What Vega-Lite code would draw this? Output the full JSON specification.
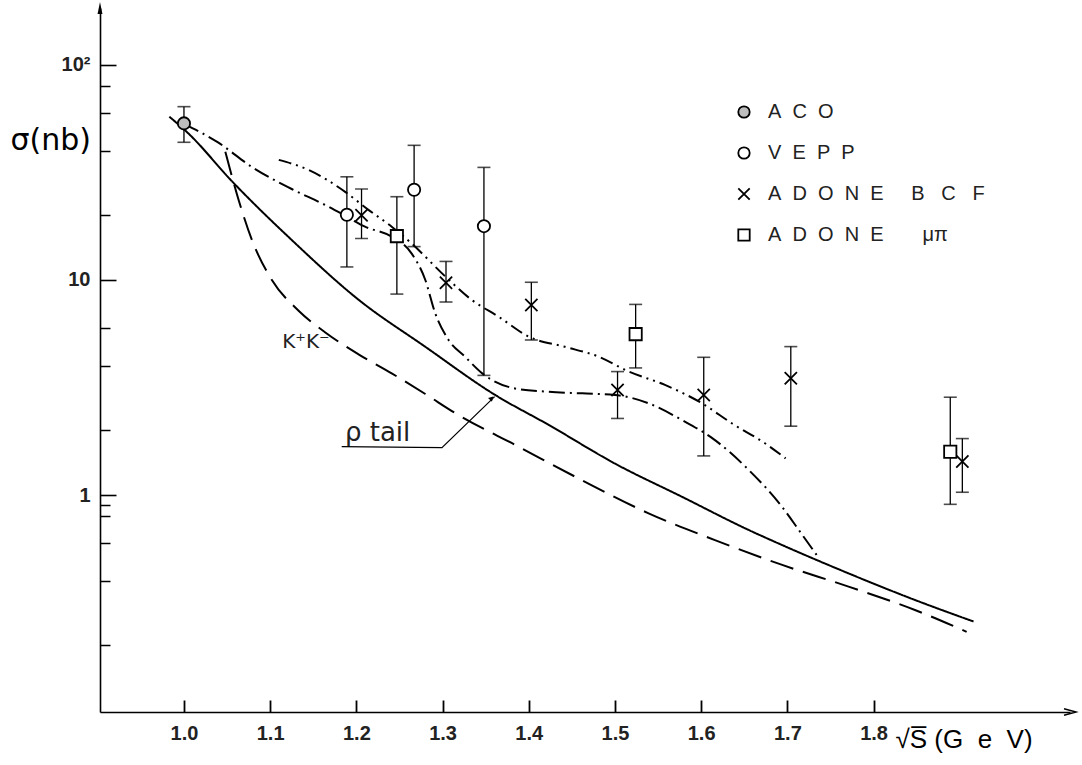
{
  "$schema": "https://vega.github.io/schema/vega-lite/v6.json",
  "width": 970,
  "height": 704,
  "autosize": {"type": "none"},
  "padding": {"left": 100, "top": 8, "right": 12, "bottom": 53},
  "background": "white",
  "config": {"view": {"stroke": null}, "font": "Liberation Sans"},
  "resolve": {"axis": {"x": "independent", "y": "independent"}},
  "datasets": {
    "curves": [
      {"curve": "rho", "x": 0.983, "y": 57.5},
      {"curve": "rho", "x": 1.005, "y": 48.1},
      {"curve": "rho", "x": 1.056, "y": 28.7},
      {"curve": "rho", "x": 1.125, "y": 15.35},
      {"curve": "rho", "x": 1.203, "y": 8.07},
      {"curve": "rho", "x": 1.28, "y": 4.89},
      {"curve": "rho", "x": 1.361, "y": 2.92},
      {"curve": "rho", "x": 1.423, "y": 2.12},
      {"curve": "rho", "x": 1.5, "y": 1.4},
      {"curve": "rho", "x": 1.578, "y": 0.98},
      {"curve": "rho", "x": 1.655, "y": 0.688},
      {"curve": "rho", "x": 1.694, "y": 0.585},
      {"curve": "rho", "x": 1.771, "y": 0.432},
      {"curve": "rho", "x": 1.848, "y": 0.325},
      {"curve": "rho", "x": 1.916, "y": 0.258},
      {"curve": "kk", "x": 1.048, "y": 39.5},
      {"curve": "kk", "x": 1.0635, "y": 23.5},
      {"curve": "kk", "x": 1.079, "y": 15.3},
      {"curve": "kk", "x": 1.102, "y": 10.0},
      {"curve": "kk", "x": 1.133, "y": 7.2},
      {"curve": "kk", "x": 1.164, "y": 5.7},
      {"curve": "kk", "x": 1.203, "y": 4.5},
      {"curve": "kk", "x": 1.241, "y": 3.68},
      {"curve": "kk", "x": 1.28, "y": 2.95},
      {"curve": "kk", "x": 1.315, "y": 2.4},
      {"curve": "kk", "x": 1.388, "y": 1.68},
      {"curve": "kk", "x": 1.462, "y": 1.17},
      {"curve": "kk", "x": 1.539, "y": 0.822},
      {"curve": "kk", "x": 1.616, "y": 0.617},
      {"curve": "kk", "x": 1.694, "y": 0.473},
      {"curve": "kk", "x": 1.771, "y": 0.375},
      {"curve": "kk", "x": 1.848, "y": 0.292},
      {"curve": "kk", "x": 1.908, "y": 0.231},
      {"curve": "dd", "x": 1.0, "y": 53.2},
      {"curve": "dd", "x": 1.04, "y": 43.5},
      {"curve": "dd", "x": 1.079, "y": 33.5},
      {"curve": "dd", "x": 1.125, "y": 26.5},
      {"curve": "dd", "x": 1.164, "y": 22.3},
      {"curve": "dd", "x": 1.187, "y": 19.9},
      {"curve": "dd", "x": 1.21, "y": 17.7},
      {"curve": "dd", "x": 1.241, "y": 15.9},
      {"curve": "dd", "x": 1.264, "y": 13.3},
      {"curve": "dd", "x": 1.28, "y": 10.0},
      {"curve": "dd", "x": 1.2915, "y": 7.0},
      {"curve": "dd", "x": 1.307, "y": 5.26},
      {"curve": "dd", "x": 1.326, "y": 4.4},
      {"curve": "dd", "x": 1.346, "y": 3.68},
      {"curve": "dd", "x": 1.384, "y": 3.13},
      {"curve": "dd", "x": 1.423, "y": 3.02},
      {"curve": "dd", "x": 1.462, "y": 2.97},
      {"curve": "dd", "x": 1.5, "y": 2.92},
      {"curve": "dd", "x": 1.539, "y": 2.67},
      {"curve": "dd", "x": 1.578, "y": 2.23},
      {"curve": "dd", "x": 1.616, "y": 1.8},
      {"curve": "dd", "x": 1.655, "y": 1.31},
      {"curve": "dd", "x": 1.694, "y": 0.88},
      {"curve": "dd", "x": 1.713, "y": 0.69},
      {"curve": "dd", "x": 1.734, "y": 0.526},
      {"curve": "ddd", "x": 1.11, "y": 36.2},
      {"curve": "ddd", "x": 1.1447, "y": 32.5},
      {"curve": "ddd", "x": 1.187, "y": 25.7},
      {"curve": "ddd", "x": 1.214, "y": 21.2},
      {"curve": "ddd", "x": 1.241, "y": 17.7},
      {"curve": "ddd", "x": 1.264, "y": 14.8},
      {"curve": "ddd", "x": 1.303, "y": 10.4},
      {"curve": "ddd", "x": 1.334, "y": 8.07},
      {"curve": "ddd", "x": 1.365, "y": 6.75},
      {"curve": "ddd", "x": 1.4, "y": 5.45},
      {"curve": "ddd", "x": 1.442, "y": 4.89},
      {"curve": "ddd", "x": 1.481, "y": 4.4},
      {"curve": "ddd", "x": 1.516, "y": 3.75},
      {"curve": "ddd", "x": 1.558, "y": 3.25},
      {"curve": "ddd", "x": 1.601, "y": 2.67},
      {"curve": "ddd", "x": 1.636, "y": 2.15},
      {"curve": "ddd", "x": 1.674, "y": 1.74},
      {"curve": "ddd", "x": 1.698, "y": 1.48}
    ],
    "points": [
      {"series": "ACO", "x": 1.0, "y": 53.5, "lo": 43.7, "hi": 64},
      {"series": "VEPP", "x": 1.189, "y": 20.1, "lo": 11.5, "hi": 30.2},
      {"series": "VEPP", "x": 1.267, "y": 26.3, "lo": 14.3, "hi": 42.3},
      {"series": "VEPP", "x": 1.348, "y": 17.8, "lo": 3.6, "hi": 33.4},
      {"series": "ADONE BCF", "x": 1.206, "y": 20.0, "lo": 15.6, "hi": 26.5},
      {"series": "ADONE BCF", "x": 1.304, "y": 9.7, "lo": 7.9, "hi": 12.2},
      {"series": "ADONE BCF", "x": 1.403, "y": 7.65, "lo": 5.26, "hi": 9.76},
      {"series": "ADONE BCF", "x": 1.503, "y": 3.08, "lo": 2.27, "hi": 3.75},
      {"series": "ADONE BCF", "x": 1.603, "y": 2.92, "lo": 1.52, "hi": 4.37},
      {"series": "ADONE BCF", "x": 1.704, "y": 3.49, "lo": 2.09, "hi": 4.9},
      {"series": "ADONE BCF", "x": 1.903, "y": 1.43, "lo": 1.03, "hi": 1.83},
      {"series": "ADONE μπ", "x": 1.247, "y": 16.0, "lo": 8.6, "hi": 24.4},
      {"series": "ADONE μπ", "x": 1.524, "y": 5.6, "lo": 3.9, "hi": 7.7},
      {"series": "ADONE μπ", "x": 1.889, "y": 1.59, "lo": 0.905, "hi": 2.85}
    ]
  },
  "encoding": {
    "x": {
      "field": "x", "type": "quantitative",
      "scale": {"domain": [0.9026, 2.0279], "nice": false, "zero": false},
      "axis": null
    },
    "y": {
      "field": "y", "type": "quantitative",
      "scale": {"type": "log", "domain": [0.0979, 184.1], "nice": false},
      "axis": null
    }
  },
  "layer": [
    {
      "data": {"name": "curves"},
      "mark": {"type": "line", "interpolate": "monotone", "color": "black", "strokeWidth": 2},
      "encoding": {
        "x": {
          "field": "x", "type": "quantitative",
          "scale": {"domain": [0.9026, 2.0279], "nice": false, "zero": false},
          "axis": {
            "orient": "bottom",
            "values": [1, 1.1, 1.2, 1.3, 1.4, 1.5, 1.6, 1.7, 1.8],
            "format": ".1f",
            "grid": false, "ticks": false,
            "domainColor": "black", "domainWidth": 1.6,
            "labelPadding": 11, "labelFont": "Liberation Sans", "labelFontSize": 20, "labelFontWeight": "bold", "labelColor": "#222222",
            "labelFlush": false, "labelOverlap": false,
            "title": "√S̅  (G\u00a0\u00a0e\u00a0\u00a0V)", "titleFont": "Liberation Sans", "titleFontSize": 26, "titleFontWeight": "normal", "titleColor": "black",
            "titleX": 795, "titleY": 27, "titleAlign": "left", "titleBaseline": "middle", "titleAnchor": null
          }
        },
        "y": {
          "field": "y", "type": "quantitative",
          "scale": {"type": "log", "domain": [0.0979, 184.1], "nice": false},
          "axis": {
            "orient": "left",
            "values": [1, 10, 100],
            "labelExpr": "datum.value == 100 ? '10²' : (datum.value == 10 ? '10' : '1')",
            "grid": false, "ticks": false,
            "domainColor": "black", "domainWidth": 1.6,
            "labelPadding": 10, "labelFont": "Liberation Sans", "labelFontSize": 20, "labelFontWeight": "bold", "labelColor": "#222222",
            "labelOverlap": false, "labelFlush": false,
            "title": "σ(nb)", "titleFont": "DejaVu Sans", "titleFontSize": 30, "titleFontWeight": "normal", "titleColor": "black",
            "titleAngle": 0, "titleX": -90, "titleY": 132, "titleAlign": "left", "titleBaseline": "middle", "titleAnchor": null
          }
        },
        "strokeDash": {
          "field": "curve", "type": "nominal",
          "scale": {"domain": ["rho", "kk", "dd", "ddd"], "range": [[1, 0], [24, 10], [16, 5, 2, 5], [13, 5, 2, 5, 2, 5]]},
          "legend": null
        }
      }
    },
    {
      "data": {"name": "points"},
      "mark": {"type": "rule", "color": "black", "strokeWidth": 1.3},
      "encoding": {
        "x": {
          "field": "x", "type": "quantitative",
          "scale": {"domain": [0.9026, 2.0279], "nice": false, "zero": false},
          "axis": {
            "orient": "bottom", "values": [1, 1.1, 1.2, 1.3, 1.4, 1.5, 1.6, 1.7, 1.8],
            "offset": -12, "ticks": true, "tickSize": 12, "tickWidth": 1.8, "tickColor": "black", "tickOpacity": 1,
            "domain": false, "labels": false, "grid": false, "title": null
          }
        },
        "y": {
          "field": "lo", "type": "quantitative",
          "scale": {"type": "log", "domain": [0.0979, 184.1], "nice": false},
          "axis": {
            "orient": "left", "values": [0.2, 0.4, 0.6, 0.8, 0.9, 2, 4, 6, 20, 40, 60, 80],
            "offset": -10, "ticks": true, "tickSize": 10, "tickWidth": 1.5, "tickColor": "black",
            "domain": false, "labels": false, "grid": false, "title": null
          }
        },
        "y2": {"field": "hi"}
      }
    },
    {
      "data": {"name": "points"},
      "mark": {"type": "tick", "orient": "horizontal", "size": 13, "thickness": 1.6, "color": "black"},
      "encoding": {
        "y": {
          "field": "lo", "type": "quantitative",
          "scale": {"type": "log", "domain": [0.0979, 184.1], "nice": false},
          "axis": {
            "orient": "left", "values": [1, 10, 100],
            "offset": -16, "ticks": true, "tickSize": 16, "tickWidth": 1.6, "tickColor": "black",
            "domain": false, "labels": false, "grid": false, "title": null
          }
        }
      }
    },
    {
      "data": {"name": "points"},
      "mark": {"type": "tick", "orient": "horizontal", "size": 13, "thickness": 1.6, "color": "black"},
      "encoding": {
        "y": {"field": "hi", "type": "quantitative", "scale": {"type": "log", "domain": [0.0979, 184.1], "nice": false}, "axis": null}
      }
    },
    {
      "data": {"name": "points"},
      "mark": {"type": "point", "strokeWidth": 1.8, "opacity": 1, "size": 150},
      "encoding": {
        "shape": {
          "field": "series", "type": "nominal",
          "scale": {"domain": ["ACO", "VEPP", "ADONE BCF", "ADONE μπ"], "range": ["circle", "circle", "M-1,-1L1,1M-1,1L1,-1", "square"]},
          "legend": {
            "orient": "none", "legendX": 634, "legendY": 94, "title": null, "padding": 0,
            "labelExpr": "datum.label == 'ACO' ? 'A\u00a0\u00a0C\u00a0\u00a0O' : (datum.label == 'VEPP' ? 'V\u00a0\u00a0E\u00a0\u00a0P\u00a0\u00a0P' : (datum.label == 'ADONE BCF' ? 'A\u00a0\u00a0D\u00a0\u00a0O\u00a0\u00a0N\u00a0\u00a0E\u00a0\u00a0\u00a0\u00a0\u00a0B\u00a0\u00a0\u00a0C\u00a0\u00a0\u00a0F' : 'A\u00a0\u00a0D\u00a0\u00a0O\u00a0\u00a0N\u00a0\u00a0E\u00a0\u00a0\u00a0\u00a0\u00a0\u00a0\u00a0μπ'))",
            "labelFont": "Liberation Sans", "labelFontSize": 20, "labelColor": "#222222", "labelOffset": 14, "labelLimit": 0,
            "symbolSize": 130, "symbolStrokeWidth": 1.8, "rowPadding": 21
          }
        },
        "fill": {
          "field": "series", "type": "nominal",
          "scale": {"domain": ["ACO", "VEPP", "ADONE BCF", "ADONE μπ"], "range": ["#bdbdbd", "white", "white", "white"]},
          "legend": {
            "orient": "none", "legendX": 634, "legendY": 94, "title": null, "padding": 0,
            "labelExpr": "datum.label == 'ACO' ? 'A\u00a0\u00a0C\u00a0\u00a0O' : (datum.label == 'VEPP' ? 'V\u00a0\u00a0E\u00a0\u00a0P\u00a0\u00a0P' : (datum.label == 'ADONE BCF' ? 'A\u00a0\u00a0D\u00a0\u00a0O\u00a0\u00a0N\u00a0\u00a0E\u00a0\u00a0\u00a0\u00a0\u00a0B\u00a0\u00a0\u00a0C\u00a0\u00a0\u00a0F' : 'A\u00a0\u00a0D\u00a0\u00a0O\u00a0\u00a0N\u00a0\u00a0E\u00a0\u00a0\u00a0\u00a0\u00a0\u00a0\u00a0μπ'))",
            "labelFont": "Liberation Sans", "labelFontSize": 20, "labelColor": "#222222", "labelOffset": 14, "labelLimit": 0,
            "symbolSize": 130, "symbolStrokeWidth": 1.8, "rowPadding": 21
          }
        },
        "stroke": {
          "field": "series", "type": "nominal",
          "scale": {"domain": ["ACO", "VEPP", "ADONE BCF", "ADONE μπ"], "range": ["black", "black", "black", "black"]},
          "legend": {
            "orient": "none", "legendX": 634, "legendY": 94, "title": null, "padding": 0,
            "labelExpr": "datum.label == 'ACO' ? 'A\u00a0\u00a0C\u00a0\u00a0O' : (datum.label == 'VEPP' ? 'V\u00a0\u00a0E\u00a0\u00a0P\u00a0\u00a0P' : (datum.label == 'ADONE BCF' ? 'A\u00a0\u00a0D\u00a0\u00a0O\u00a0\u00a0N\u00a0\u00a0E\u00a0\u00a0\u00a0\u00a0\u00a0B\u00a0\u00a0\u00a0C\u00a0\u00a0\u00a0F' : 'A\u00a0\u00a0D\u00a0\u00a0O\u00a0\u00a0N\u00a0\u00a0E\u00a0\u00a0\u00a0\u00a0\u00a0\u00a0\u00a0μπ'))",
            "labelFont": "Liberation Sans", "labelFontSize": 20, "labelColor": "#222222", "labelOffset": 14, "labelLimit": 0,
            "symbolSize": 130, "symbolStrokeWidth": 1.8, "rowPadding": 21
          }
        }
      }
    },
    {
      "data": {"values": [{"x": 1.114, "y": 4.83, "label": "K⁺K⁻"}]},
      "mark": {"type": "text", "align": "left", "baseline": "alphabetic", "font": "DejaVu Sans", "fontSize": 20, "color": "#222222"},
      "encoding": {"text": {"field": "label"}}
    },
    {
      "data": {"values": [{"x": 1.1868, "y": 1.78, "label": "ρ tail"}]},
      "mark": {"type": "text", "align": "left", "baseline": "alphabetic", "font": "DejaVu Sans", "fontSize": 26, "color": "#222222"},
      "encoding": {"text": {"field": "label"}}
    },
    {
      "data": {"values": [{"x": 1.183, "y": 1.678}, {"x": 1.2993, "y": 1.66}, {"x": 1.3604, "y": 2.87}]},
      "mark": {"type": "line", "color": "black", "strokeWidth": 1.2},
      "encoding": {}
    },
    {
      "data": {"values": [{"x": 1.357, "y": 2.82}]},
      "mark": {"type": "point", "shape": "triangle-up", "angle": 45, "size": 30, "filled": true, "color": "black", "opacity": 1},
      "encoding": {}
    },
    {
      "data": {"values": [{"x": 0.9026, "y": 184.1}]},
      "mark": {"type": "point", "shape": "M0,-1L0.4,1L-0.4,1Z", "size": 150, "filled": true, "color": "black", "opacity": 1},
      "encoding": {}
    },
    {
      "data": {"values": [{"x": 2.0279, "y": 0.0979}]},
      "mark": {"type": "point", "shape": "M-1,-0.55L1,0L-1,0.55", "size": 144, "filled": false, "color": "black", "strokeWidth": 1.5, "opacity": 1},
      "encoding": {}
    }
  ]
}
